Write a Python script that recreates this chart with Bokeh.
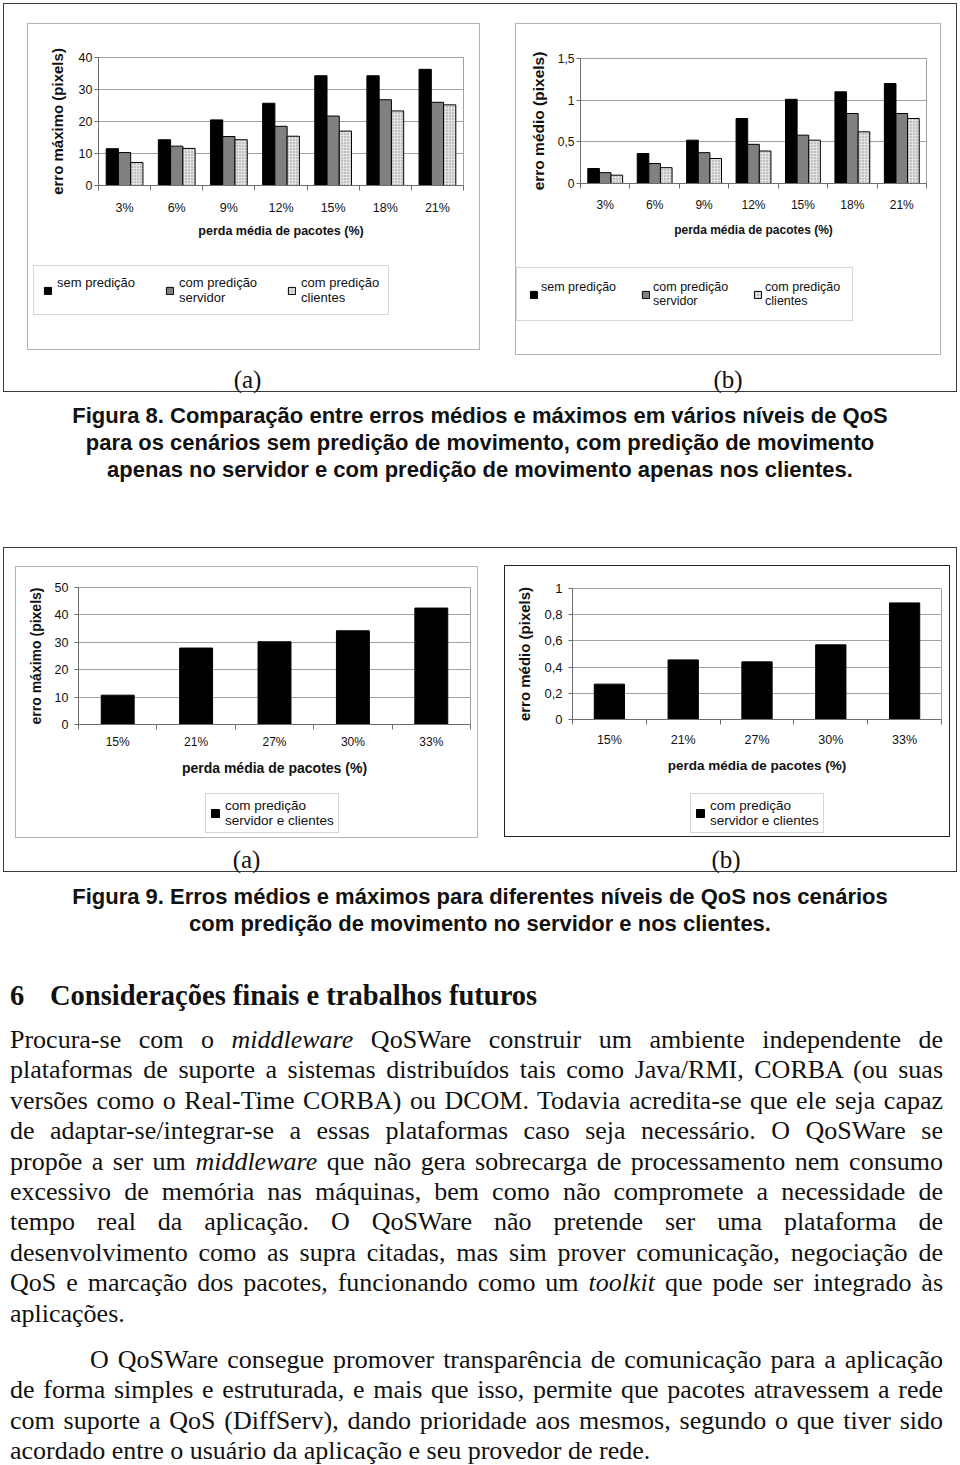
from bokeh.plotting import figure
from bokeh.models import Range1d, FixedTicker, Legend, LegendItem, Div
from bokeh.layouts import row, column
from bokeh.embed import file_html
from bokeh.resources import INLINE

# ---------------- data ----------------
perdas_fig8 = ["3%", "6%", "9%", "12%", "15%", "18%", "21%"]
serie_sem = "sem predição"
serie_srv = "com predição\nservidor"
serie_cli = "com predição\nclientes"
erro_max_sem = [11.5, 14.3, 20.5, 25.7, 34.3, 34.3, 36.3]
erro_max_srv = [10.3, 12.3, 15.3, 18.5, 21.7, 26.8, 26.0]
erro_max_cli = [7.2, 11.6, 14.3, 15.4, 17.0, 23.3, 25.2]
erro_med_sem = [0.18, 0.36, 0.52, 0.78, 1.01, 1.10, 1.20]
erro_med_srv = [0.13, 0.24, 0.37, 0.47, 0.58, 0.84, 0.84]
erro_med_cli = [0.10, 0.19, 0.30, 0.39, 0.52, 0.62, 0.78]

perdas_fig9 = ["15%", "21%", "27%", "30%", "33%"]
serie_ambos = "com predição\nservidor e clientes"
erro_max_ambos = [10.7, 27.9, 30.2, 34.2, 42.5]
erro_med_ambos = [0.27, 0.455, 0.44, 0.57, 0.89]

yticks_8a = [0, 10, 20, 30, 40]
ylabels_8a = ["0", "10", "20", "30", "40"]
yticks_8b = [0, 0.5, 1, 1.5]
ylabels_8b = ["0", "0,5", "1", "1,5"]
yticks_9a = [0, 10, 20, 30, 40, 50]
ylabels_9a = ["0", "10", "20", "30", "40", "50"]
yticks_9b = [0, 0.2, 0.4, 0.6, 0.8, 1]
ylabels_9b = ["0", "0,2", "0,4", "0,6", "0,8", "1"]

xtitle = "perda média de pacotes (%)"
ytitle_max = "erro máximo (pixels)"
ytitle_med = "erro médio (pixels)"

caption8 = ["Figura 8. Comparação entre erros médios e máximos em vários níveis de QoS",
            "para os cenários sem predição de movimento, com predição de movimento",
            "apenas no servidor e com predição de movimento apenas nos clientes."]
caption9 = ["Figura 9. Erros médios e máximos para diferentes níveis de QoS nos cenários",
            "com predição de movimento no servidor e nos clientes."]
heading_num = "6"
heading_txt = "Considerações finais e trabalhos futuros"
para1 = ["Procura-se com o <i>middleware</i> QoSWare construir um ambiente independente de",
         "plataformas de suporte a sistemas distribuídos tais como Java/RMI, CORBA (ou suas",
         "versões como o Real-Time CORBA) ou DCOM. Todavia acredita-se que ele seja capaz",
         "de adaptar-se/integrar-se a essas plataformas caso seja necessário. O QoSWare se",
         "propõe a ser um <i>middleware</i> que não gera sobrecarga de processamento nem consumo",
         "excessivo de memória nas máquinas, bem como não compromete a necessidade de",
         "tempo real da aplicação. O QoSWare não pretende ser uma plataforma de",
         "desenvolvimento como as supra citadas, mas sim prover comunicação, negociação de",
         "QoS e marcação dos pacotes, funcionando como um <i>toolkit</i> que pode ser integrado às",
         "aplicações."]
para2 = ["O QoSWare consegue promover transparência de comunicação para a aplicação",
         "de forma simples e estruturada, e mais que isso, permite que pacotes atravessem a rede",
         "com suporte a QoS (DiffServ), dando prioridade aos mesmos, segundo o que tiver sido",
         "acordado entre o usuário da aplicação e seu provedor de rede."]

# ---------------- styles ----------------
SANS = "Liberation Sans"
SERIF = "Liberation Serif"
BLACK = dict(fill_color="#000000")
GRAY = dict(fill_color="#808080")
LIGHT = dict(fill_color="#e2e2e2", hatch_pattern="dot", hatch_scale=3,
             hatch_color="#8c8c8c", hatch_weight=0.7)


def no_frame_align(fig):
    try:
        fig.frame_align = False
    except Exception:
        pass


def chart(cats, series, yticks, ylabels, ytitle, c):
    """Bar chart figure plus a legend strip, framed together like an Excel chart area."""
    n = len(cats)
    p = figure(width=c["w"], height=c["h"], x_range=Range1d(0, n),
               y_range=Range1d(yticks[0], yticks[-1]),
               output_backend="svg", toolbar_location=None,
               min_border_left=c["bl"], min_border_right=c["br"],
               min_border_top=c["bt"], min_border_bottom=c["bb"],
               background_fill_color="white", border_fill_color="white")
    no_frame_align(p)
    k = len(series)
    bw = c["bar_w"]
    for j, (name, vals, style) in enumerate(series):
        off = (j - (k - 1) / 2) * bw
        xs = [i + 0.5 + off for i in range(n)]
        p.vbar(x=xs, top=vals, bottom=0, width=bw, line_color="black",
               line_width=1, **style)

    xa = p.xaxis[0]
    ya = p.yaxis[0]
    xa.ticker = FixedTicker(ticks=[i + 0.5 for i in range(n)],
                            minor_ticks=list(range(n + 1)))
    xa.major_label_overrides = {i + 0.5: cat for i, cat in enumerate(cats)}
    ya.ticker = FixedTicker(ticks=yticks, minor_ticks=[])
    ya.major_label_overrides = dict(zip(yticks, ylabels))
    for ax in (xa, ya):
        ax.axis_line_color = "#6e6e6e"
        ax.major_tick_line_color = "#6e6e6e"
        ax.minor_tick_line_color = "#6e6e6e"
        ax.major_label_text_font = SANS
        ax.major_label_text_color = "#111111"
        ax.axis_label_text_font = SANS
        ax.axis_label_text_font_style = "bold"
        ax.axis_label_text_color = "#111111"
    xa.major_tick_out = 0
    xa.major_tick_in = 0
    xa.minor_tick_out = 5
    xa.minor_tick_in = 0
    ya.major_tick_out = 4
    ya.major_tick_in = 0
    ya.minor_tick_out = 0
    ya.minor_tick_in = 0
    xa.major_label_text_font_size = c["tick_fs"]
    ya.major_label_text_font_size = c["ytick_fs"]
    xa.major_label_standoff = c["x_std"]
    ya.major_label_standoff = c["y_std"]
    xa.axis_label = xtitle
    ya.axis_label = ytitle
    xa.axis_label_text_font_size = c["xt_fs"]
    ya.axis_label_text_font_size = c["yt_fs"]
    xa.axis_label_standoff = c["xt_std"]
    ya.axis_label_standoff = c["yt_std"]
    p.xgrid.visible = False
    p.ygrid.grid_line_color = "#a2a2a2"
    p.outline_line_color = "#a2a2a2"

    # legend strip: same series styles; its renderers hold no visible bar
    lp = figure(width=c["w"], height=c["lh"], x_range=Range1d(0, 1), y_range=Range1d(0, 1),
                output_backend="svg", toolbar_location=None,
                x_axis_location=None, y_axis_location=None, min_border=0,
                min_border_left=0, min_border_right=0, min_border_top=0, min_border_bottom=0,
                background_fill_color="white", border_fill_color="white",
                outline_line_color=None)
    no_frame_align(lp)
    lp.grid.visible = False
    multi = any("\n" in s[0] for s in series)
    items = []
    for name, vals, style in series:
        lab = name if ("\n" in name or not multi) else name + "\n\u00a0"
        r = lp.vbar(x=[0.5], top=[float("nan")], bottom=[0.0], width=0.1,
                    line_color="black", line_width=1, **style)
        items.append(LegendItem(label=lab, renderers=[r]))
    leg = Legend(items=items, location=c["leg_loc"], orientation="horizontal",
                 border_line_color="#b0b0b0", border_line_width=1,
                 background_fill_color="white", background_fill_alpha=1,
                 padding=c["leg_pad"], spacing=c["leg_sp"], margin=0,
                 glyph_width=c["glyph"], glyph_height=c["glyph"],
                 label_standoff=c["leg_std"], label_text_font=SANS,
                 label_text_font_size=c["leg_fs"], label_text_color="#111111",
                 label_text_line_height=c["leg_lh"])
    lp.add_layout(leg)
    return column(p, lp, margin=c["margin"],
                  styles={"border": "1px solid " + c["frame"]})


def label_div(txt, w, margin):
    return Div(text=f'<div style="width:{w}px;font-family:\'{SERIF}\';font-size:25px;'
                    f'line-height:30px;text-align:center;color:#111;">{txt}</div>',
               width=w, height=30, margin=margin)


cfg8a = dict(w=451, h=232, lh=93, bl=70, br=16, bt=33, bb=71, margin=(19, 0, 0, 23),
             frame="#b4b4b4", bar_w=0.235, tick_fs="12.5px", ytick_fs="12.5px", x_std=10, y_std=2,
             xt_fs="12.5px", yt_fs="15px", xt_std=6, yt_std=10,
             leg_loc=(5, 34), leg_pad=9, leg_sp=30, glyph=9, leg_std=5,
             leg_fs="13px", leg_lh=1.25)
cfg8b = dict(w=424, h=235, lh=95, bl=64, br=14, bt=34, bb=76, margin=(19, 0, 0, 35),
             frame="#b4b4b4", bar_w=0.235, tick_fs="12px", ytick_fs="12px", x_std=9, y_std=2,
             xt_fs="12px", yt_fs="15.5px", xt_std=8, yt_std=8,
             leg_loc=(0, 33), leg_pad=12, leg_sp=25, glyph=9, leg_std=3,
             leg_fs="12.5px", leg_lh=1.6)
cfg9a = dict(w=461, h=219, lh=51, bl=62, br=7, bt=20, bb=62, margin=(18, 0, 0, 11),
             frame="#b4b4b4", bar_w=0.42, tick_fs="12px", ytick_fs="12.5px", x_std=5, y_std=6,
             xt_fs="14px", yt_fs="14px", xt_std=8, yt_std=8,
             leg_loc=(189, 4), leg_pad=4, leg_sp=10, glyph=10, leg_std=5,
             leg_fs="13.5px", leg_lh=1.2)
cfg9b = dict(w=444, h=218, lh=52, bl=67, br=8, bt=22, bb=65, margin=(17, 0, 0, 26),
             frame="#222222", bar_w=0.41, tick_fs="12.5px", ytick_fs="13px", x_std=8, y_std=6,
             xt_fs="13.5px", yt_fs="15px", xt_std=8, yt_std=8,
             leg_loc=(185, 3), leg_pad=4, leg_sp=10, glyph=10, leg_std=5,
             leg_fs="13.5px", leg_lh=1.2)

f8a = chart(perdas_fig8, [(serie_sem, erro_max_sem, BLACK), (serie_srv, erro_max_srv, GRAY),
                          (serie_cli, erro_max_cli, LIGHT)],
            yticks_8a, ylabels_8a, ytitle_max, cfg8a)
f8b = chart(perdas_fig8, [(serie_sem, erro_med_sem, BLACK), (serie_srv, erro_med_srv, GRAY),
                          (serie_cli, erro_med_cli, LIGHT)],
            yticks_8b, ylabels_8b, ytitle_med, cfg8b)
f9a = chart(perdas_fig9, [(serie_ambos, erro_max_ambos, BLACK)],
            yticks_9a, ylabels_9a, ytitle_max, cfg9a)
f9b = chart(perdas_fig9, [(serie_ambos, erro_med_ambos, BLACK)],
            yticks_9b, ylabels_9b, ytitle_med, cfg9b)

OUTER = {"border": "1.5px solid #3a3a3a", "box-sizing": "border-box"}

box8 = row(column(f8a, label_div("(a)", 451, (15, 0, 0, 18))),
           column(f8b, label_div("(b)", 424, (10, 0, 0, 36))),
           width=954, height=389, styles=OUTER)
box9 = row(column(f9a, label_div("(a)", 461, (7, 0, 0, 12))),
           column(f9b, label_div("(b)", 444, (8, 0, 0, 26))),
           width=954, height=325, styles=OUTER)

cap_style = (f"width:954px;font-family:'{SANS}';font-weight:bold;font-size:22px;line-height:27px;"
             "text-align:center;color:#111;")
cap8 = Div(text=f'<div style="{cap_style}padding-top:10px;">' + "<br>".join(caption8) + "</div>",
           width=954, height=155, margin=0)


def just_lines(lines, first_indent=0, tight_last=False):
    out = []
    for i, ln in enumerate(lines):
        last = i == len(lines) - 1
        st = f"text-indent:{first_indent}px;" if i == 0 and first_indent else ""
        st += ("text-align:left;text-align-last:left;" if last
               else "text-align:justify;text-align-last:justify;")
        if last and tight_last:
            st += "line-height:20px;margin-top:5.2px;"
        out.append(f'<div style="{st}">{ln}</div>')
    return "".join(out)


body_html = (
    f'<div style="{cap_style}padding-top:11px;">' + "<br>".join(caption9) + "</div>"
    f'<div style="font-family:\'{SERIF}\';font-weight:bold;font-size:28.5px;line-height:34px;'
    f'margin-top:42px;padding-left:7px;color:#111;"><span style="display:inline-block;width:40px;">'
    f'{heading_num}</span>{heading_txt}</div>'
    f'<div style="font-family:\'{SERIF}\';font-size:26px;line-height:30.4px;color:#111;'
    f'margin-left:7px;width:933px;">'
    f'<div style="margin-top:12px;">{just_lines(para1)}</div>'
    f'<div style="margin-top:16px;">{just_lines(para2, 80, tight_last=True)}</div>'
    '</div>'
)
body = Div(text=body_html, width=954, height=592, margin=0, styles={"overflow": "hidden"})

root = column(box8, cap8, box9, body,
              styles={"margin-left": "3px", "margin-top": "3px"})

open("out.html", "w").write(file_html(root, INLINE))
